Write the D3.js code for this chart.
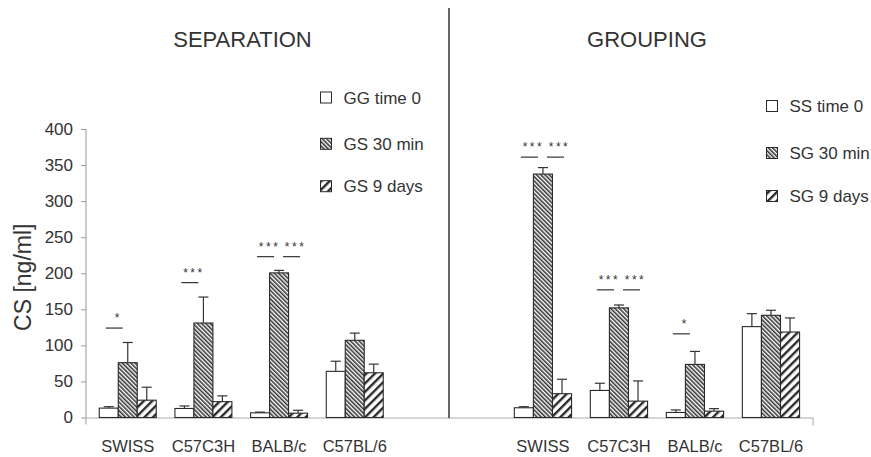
<!DOCTYPE html>
<html>
<head>
<meta charset="utf-8">
<script src="https://cdn.jsdelivr.net/npm/d3@7"></script>
<style>
  html, body { margin: 0; padding: 0; background: #fff; }
  svg { display: block; font-family: "Liberation Sans", Arial, sans-serif; }
</style>
</head>
<body>
<svg id="chart" width="871" height="457"></svg>
<script>
// ---------- data ----------
const categories = ["SWISS", "C57C3H", "BALB/c", "C57BL/6"];
const sepSeries = ["GG time 0", "GS 30 min", "GS 9 days"];
const grpSeries = ["SS time 0", "SG 30 min", "SG 9 days"];
const yTicks = [0, 50, 100, 150, 200, 250, 300, 350, 400];

// Separation panel (means and SEM)
const sepTime0 = [13, 12.5, 6.5, 64];
const sepTime0Err = [2, 3.5, 1, 14];
const sep30min = [76, 131, 200.5, 107];
const sep30minErr = [28, 36, 3.5, 10];
const sep9days = [24, 22, 6, 62];
const sep9daysErr = [18, 8, 4, 12];

// Grouping panel (means and SEM)
const grpTime0 = [13.5, 37.5, 7, 126];
const grpTime0Err = [1.5, 10, 3.5, 18];
const grp30min = [337.5, 152, 73.6, 141.7];
const grp30minErr = [9, 4, 18, 7];
const grp9days = [33, 22.7, 8.8, 118.5];
const grp9daysErr = [20, 28, 3.5, 19.5];

// significance: [category, from series index, to series index, level (ng/ml), label]
const sepSig = [
  ["SWISS", 0, 1, 124, "*"],
  ["C57C3H", 0, 1, 187, "***"],
  ["BALB/c", 0, 1, 223, "***"],
  ["BALB/c", 1, 2, 223, "***"]
];
const grpSig = [
  ["SWISS", 0, 1, 361, "***"],
  ["SWISS", 1, 2, 361, "***"],
  ["C57C3H", 0, 1, 177, "***"],
  ["C57C3H", 1, 2, 177, "***"],
  ["BALB/c", 0, 1, 116, "*"]
];

// ---------- drawing ----------
const svg = d3.select("#chart");
const textColor = "#333";
const barStroke = "#2a2a2a";

const defs = svg.append("defs");
const pDense = defs.append("pattern").attr("id", "dense")
  .attr("patternUnits", "userSpaceOnUse").attr("width", 3).attr("height", 3)
  .attr("patternTransform", "rotate(-45)");
pDense.append("rect").attr("width", 3).attr("height", 3).attr("fill", "#fff");
pDense.append("line").attr("x1", 0.8).attr("y1", 0).attr("x2", 0.8).attr("y2", 3)
  .attr("stroke", "#2a2a2a").attr("stroke-width", 1.5);

const pWide = defs.append("pattern").attr("id", "wide")
  .attr("patternUnits", "userSpaceOnUse").attr("width", 6).attr("height", 6)
  .attr("patternTransform", "rotate(45)");
pWide.append("rect").attr("width", 6).attr("height", 6).attr("fill", "#fff");
pWide.append("line").attr("x1", 1.2).attr("y1", 0).attr("x2", 1.2).attr("y2", 6)
  .attr("stroke", "#2a2a2a").attr("stroke-width", 2.4);

const fills = ["#fff", "url(#dense)", "url(#wide)"];

const y = d3.scaleLinear().domain([0, 400]).range([417.5, 129]);

const xL = d3.scaleBand().domain(categories).range([86.4, 396.1])
  .paddingInner(0.247).paddingOuter(0.17);
const xR = d3.scaleBand().domain(categories).range([501.4, 812.5])
  .paddingInner(0.247).paddingOuter(0.17);

// y axis
const yAxis = svg.append("g").attr("transform", "translate(86,0)")
  .call(d3.axisLeft(y).tickValues(yTicks).tickSize(5).tickPadding(8));
yAxis.select(".domain").remove();
yAxis.selectAll(".tick line").attr("stroke", "#999");
yAxis.selectAll(".tick text").attr("fill", textColor)
  .style("font-size", "17px").style("font-family", "'Liberation Sans', Arial, sans-serif");
svg.append("line").attr("x1", 86).attr("x2", 86)
  .attr("y1", y(400)).attr("y2", y(0) + 7).attr("stroke", "#999").attr("stroke-width", 1);

// baseline
svg.append("line").attr("x1", 86).attr("x2", 813)
  .attr("y1", y(0) + 0.5).attr("y2", y(0) + 0.5).attr("stroke", "#aaa").attr("stroke-width", 1);
svg.append("line").attr("x1", 813).attr("x2", 813)
  .attr("y1", y(0) + 0.5).attr("y2", y(0) + 8).attr("stroke", "#aaa").attr("stroke-width", 1);

// divider
svg.append("line").attr("x1", 449).attr("x2", 449)
  .attr("y1", 8).attr("y2", y(0) + 0.5).attr("stroke", "#333").attr("stroke-width", 1.5);

// y label
svg.append("text").attr("transform", `translate(23,${(y(0) + y(400)) / 2 + 4}) rotate(-90)`)
  .attr("text-anchor", "middle").attr("dominant-baseline", "central")
  .attr("fill", textColor).style("font-size", "23px").text("CS [ng/ml]");

function panel(x, series, means, errs, sigs, title, titleX, legendX, legendRows) {
  const inner = d3.scaleBand().domain(d3.range(3)).range([0, x.bandwidth()]);
  const center = (c, s) => x(c) + inner(s) + inner.bandwidth() / 2;

  // bars
  const g = svg.append("g");
  means.forEach((vals, s) => {
    g.selectAll(null).data(categories).join("rect")
      .attr("x", (c) => x(c) + inner(s))
      .attr("y", (c, i) => y(vals[i]))
      .attr("width", inner.bandwidth())
      .attr("height", (c, i) => y(0) - y(vals[i]))
      .attr("fill", fills[s]).attr("stroke", barStroke).attr("stroke-width", 1.1);
  });

  // error bars (upper only)
  means.forEach((vals, s) => {
    const eg = g.append("g").attr("stroke", "#333").attr("stroke-width", 1.2);
    categories.forEach((c, i) => {
      const cx = center(c, s);
      const top = y(vals[i] + errs[s][i]);
      eg.append("line").attr("x1", cx).attr("x2", cx).attr("y1", y(vals[i])).attr("y2", top);
      eg.append("line").attr("x1", cx - 5).attr("x2", cx + 5).attr("y1", top).attr("y2", top);
    });
  });

  // significance
  sigs.forEach(([c, a, b, lvl, lab]) => {
    const shift = a === 0 ? -3.5 : 3.5;
    const xa = center(c, a) + shift + 0.5;
    const xb = center(c, b) + shift - 1.5;
    const ly = y(lvl);
    g.append("line").attr("x1", xa).attr("x2", xb).attr("y1", ly).attr("y2", ly)
      .attr("stroke", "#333").attr("stroke-width", 1.2);
    g.append("text").attr("x", (xa + xb) / 2 + 4).attr("y", ly - 6)
      .attr("text-anchor", "middle").attr("fill", textColor)
      .style("font-size", "12px").style("letter-spacing", "2.5px").text(lab);
  });

  // x labels
  const xa = svg.append("g").attr("transform", `translate(0,${y(0) + 0.5})`)
    .call(d3.axisBottom(x).tickSize(0).tickPadding(22));
  xa.select(".domain").remove();
  xa.selectAll(".tick text").attr("fill", textColor)
    .style("font-size", "16.5px").style("font-family", "'Liberation Sans', Arial, sans-serif");

  // title
  svg.append("text").attr("x", titleX).attr("y", 47).attr("text-anchor", "middle")
    .attr("fill", textColor).style("font-size", "22px").text(title);

  // legend
  series.forEach((name, s) => {
    const cy = legendRows[s];
    svg.append("rect").attr("x", legendX).attr("y", cy - 5.5).attr("width", 11).attr("height", 11)
      .attr("fill", fills[s]).attr("stroke", barStroke).attr("stroke-width", 1);
    svg.append("text").attr("x", legendX + 23).attr("y", cy + 6)
      .attr("fill", textColor).style("font-size", "17px").text(name);
  });
}

panel(xL, sepSeries, [sepTime0, sep30min, sep9days],
  [sepTime0Err, sep30minErr, sep9daysErr], sepSig, "SEPARATION", 242.5, 320.5, [97.5, 143.8, 186.2]);
panel(xR, grpSeries, [grpTime0, grp30min, grp9days],
  [grpTime0Err, grp30minErr, grp9daysErr], grpSig, "GROUPING", 647, 766.5, [106, 153, 196]);
</script>
</body>
</html>
